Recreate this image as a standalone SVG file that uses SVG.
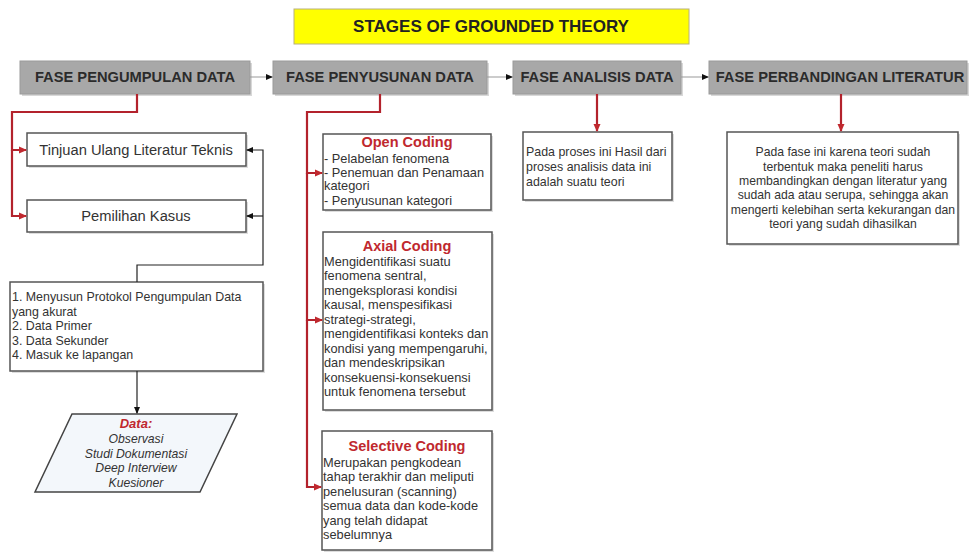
<svg xmlns="http://www.w3.org/2000/svg" width="969" height="552" viewBox="0 0 969 552">
<style>
text{font-family:"Liberation Sans",Arial,sans-serif;fill:#333}
.ph{fill:#a8a8a8;stroke:#9a9a9a;stroke-width:1}
.phs{fill:#d8d8d8}
.pht{font-size:14.7px;font-weight:bold;fill:#2b2b2b;text-anchor:middle}
.box{fill:#fff;stroke:#555;stroke-width:1.5}
.bs{fill:#ddd}
.t{font-size:12.4px}
.tk{font-size:12.8px}
.tc{font-size:12.2px;text-anchor:middle}
.ttl{font-size:14.5px;font-weight:bold;fill:#c0282e;text-anchor:middle}
.red{fill:none;stroke:#b3222c;stroke-width:2.2}
.blk{fill:none;stroke:#222;stroke-width:1.2}
.gry{fill:none;stroke:#999;stroke-width:1}
</style>
<defs>
<marker id="ar" markerWidth="8" markerHeight="8" refX="7" refY="4" orient="auto" markerUnits="userSpaceOnUse"><path d="M0,0.5 L8,4 L0,7.5z" fill="#c0282e"/></marker>
<marker id="ab" markerWidth="7" markerHeight="7" refX="6" refY="3.5" orient="auto" markerUnits="userSpaceOnUse"><path d="M0,0.5 L7,3.5 L0,6.5z" fill="#111"/></marker>
</defs>
<rect width="969" height="552" fill="#fff"/>

<g id="title">
<rect x="294" y="9" width="395" height="35" fill="#ffff00" stroke="#b8b080" stroke-width="1"/>
<text x="491" y="32" style="font-size:17px;font-weight:bold;fill:#222;text-anchor:middle">STAGES OF GROUNDED THEORY</text>
</g>

<g id="phase1"><rect class="phs" x="22" y="63" width="230" height="33"/><rect class="ph" x="20" y="61" width="230" height="33"/><text class="pht" x="135" y="82">FASE PENGUMPULAN DATA</text></g>
<g id="phase2"><rect class="phs" x="275" y="63" width="214" height="33"/><rect class="ph" x="273" y="61" width="214" height="33"/><text class="pht" x="380" y="82">FASE PENYUSUNAN DATA</text></g>
<g id="phase3"><rect class="phs" x="515" y="63" width="168" height="33"/><rect class="ph" x="513" y="61" width="168" height="33"/><text class="pht" x="597" y="82">FASE ANALISIS DATA</text></g>
<g id="phase4"><rect class="phs" x="711" y="63" width="258" height="33"/><rect class="ph" x="709" y="61" width="258" height="33"/><text class="pht" x="840" y="82">FASE PERBANDINGAN LITERATUR</text></g>

<g id="tinjuan"><rect class="bs" x="29" y="135" width="219" height="33"/><rect class="box" x="27" y="133" width="219" height="33"/><text x="136" y="155" style="font-size:14.7px;text-anchor:middle">Tinjuan Ulang Literatur Teknis</text></g>
<g id="pemilihan"><rect class="bs" x="29" y="202" width="219" height="32"/><rect class="box" x="27" y="200" width="219" height="32"/><text x="136" y="221" style="font-size:14.7px;text-anchor:middle">Pemilihan Kasus</text></g>

<g id="protokol"><rect class="bs" x="12" y="284" width="253" height="89"/><rect class="box" x="10" y="282" width="253" height="89"/>
<text class="t" x="12" y="301">1. Menyusun Protokol Pengumpulan Data</text>
<text class="t" x="12" y="316">yang akurat</text>
<text class="t" x="12" y="330">2. Data Primer</text>
<text class="t" x="12" y="345">3. Data Sekunder</text>
<text class="t" x="12" y="359">4. Masuk ke lapangan</text>
</g>

<g id="data"><polygon points="72,414 237,414 200,492 35,492" fill="#f3f7fb" stroke="#444" stroke-width="1.5"/>
<text x="136" y="428" style="font-size:13px;font-weight:bold;font-style:italic;fill:#c0282e;text-anchor:middle">Data:</text>
<text class="tc" x="136" y="443" font-style="italic">Observasi</text>
<text class="tc" x="136" y="458" font-style="italic">Studi Dokumentasi</text>
<text class="tc" x="136" y="472" font-style="italic">Deep Interview</text>
<text class="tc" x="136" y="487" font-style="italic">Kuesioner</text>
</g>

<g id="open"><rect class="bs" x="325" y="136" width="168" height="76"/><rect class="box" x="323" y="134" width="168" height="76"/>
<text class="ttl" x="407" y="147">Open Coding</text>
<text class="tk" x="324" y="162.5">- Pelabelan fenomena</text>
<text class="tk" x="324" y="176.5">- Penemuan dan Penamaan</text>
<text class="tk" x="324" y="190">kategori</text>
<text class="tk" x="324" y="204.5">- Penyusunan kategori</text>
</g>

<g id="axial"><rect class="bs" x="325" y="234" width="169" height="178"/><rect class="box" x="323" y="232" width="169" height="178"/>
<text class="ttl" x="407" y="251">Axial Coding</text>
<text class="tk" x="324" y="265.5">Mengidentifikasi suatu</text>
<text class="tk" x="324" y="280">fenomena sentral,</text>
<text class="tk" x="324" y="294.5">mengeksplorasi kondisi</text>
<text class="tk" x="324" y="309">kausal, menspesifikasi</text>
<text class="tk" x="324" y="323.5">strategi-strategi,</text>
<text class="tk" x="324" y="338">mengidentifikasi konteks dan</text>
<text class="tk" x="324" y="352.5">kondisi yang mempengaruhi,</text>
<text class="tk" x="324" y="367">dan mendeskripsikan</text>
<text class="tk" x="324" y="381.5">konsekuensi-konsekuensi</text>
<text class="tk" x="324" y="396">untuk fenomena tersebut</text>
</g>

<g id="selective"><rect class="bs" x="324" y="433" width="170" height="119"/><rect class="box" x="322" y="431" width="170" height="119"/>
<text class="ttl" x="407" y="451">Selective Coding</text>
<text class="tk" x="323" y="466.5">Merupakan pengkodean</text>
<text class="tk" x="323" y="481">tahap terakhir dan meliputi</text>
<text class="tk" x="323" y="495.5">penelusuran (scanning)</text>
<text class="tk" x="323" y="510">semua data dan kode-kode</text>
<text class="tk" x="323" y="524.5">yang telah didapat</text>
<text class="tk" x="323" y="539">sebelumnya</text>
</g>

<g id="analisis"><rect class="bs" x="525" y="134" width="149" height="68"/><rect class="box" x="523" y="132" width="149" height="68"/>
<text class="t" x="526" y="156">Pada proses ini Hasil dari</text>
<text class="t" x="526" y="171">proses analisis data ini</text>
<text class="t" x="526" y="186">adalah suatu teori</text>
</g>

<g id="perbandingan"><rect class="bs" x="729" y="134" width="231" height="112"/><rect class="box" x="727" y="132" width="231" height="112"/>
<text class="tc" x="843" y="156">Pada fase ini karena teori sudah</text>
<text class="tc" x="843" y="171">terbentuk maka peneliti harus</text>
<text class="tc" x="843" y="185">membandingkan dengan literatur yang</text>
<text class="tc" x="843" y="199">sudah ada atau serupa, sehingga akan</text>
<text class="tc" x="843" y="214">mengerti kelebihan serta kekurangan dan</text>
<text class="tc" x="843" y="228">teori yang sudah dihasilkan</text>
</g>

<g id="connectors">
<path class="gry" d="M250,77 H272" marker-end="url(#ab)"/>
<path class="gry" d="M487,77 H512" marker-end="url(#ab)"/>
<path class="gry" d="M681,77 H708" marker-end="url(#ab)"/>
<path class="red" d="M137,94 V112 H12 V150 H26" marker-end="url(#ar)"/>
<path class="red" d="M12,150 V216 H26" marker-end="url(#ar)"/>
<path class="red" d="M380,94 V112 H307 V173 H322" marker-end="url(#ar)"/>
<path class="red" d="M307,173 V320 H322" marker-end="url(#ar)"/>
<path class="red" d="M307,320 V487 H321" marker-end="url(#ar)"/>
<path class="red" d="M597,94 V131" marker-end="url(#ar)"/>
<path class="red" d="M841,94 V131" marker-end="url(#ar)"/>
<path class="blk" d="M137,282 V265 H263 V150 H247" marker-end="url(#ab)"/>
<path class="blk" d="M263,216 H247" marker-end="url(#ab)"/>
<path class="blk" d="M137,371 V413" marker-end="url(#ab)"/>
</g>
</svg>
